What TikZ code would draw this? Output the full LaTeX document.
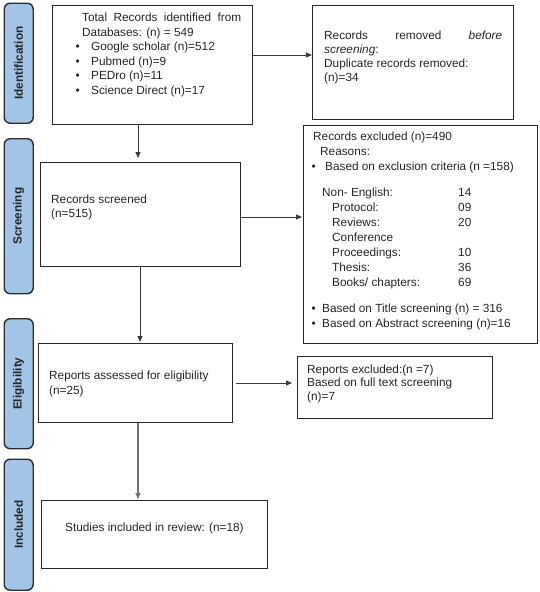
\documentclass[tikz,border=0pt]{standalone}
\usepackage{fontspec}
\setmainfont{Liberation Sans}
\usetikzlibrary{arrows.meta,calc}
\definecolor{phasefill}{HTML}{A2C4E7}
\definecolor{phaseline}{HTML}{2E2E2E}
\definecolor{boxline}{HTML}{262626}
\definecolor{arrline}{HTML}{3A3A3A}
\tikzset{
  phase/.style={draw=phaseline, line width=1.4pt, fill=phasefill, rounded corners=6pt, inner sep=0pt, anchor=north west},
  phaselabel/.style={rotate=90, font=\fontsize{11.8}{13}\selectfont\bfseries, text=black!85, inner sep=0pt},
  box/.style={draw=boxline, line width=1.1pt, fill=white, inner sep=0pt, anchor=north west},
  txt/.style={font=\fontsize{11.8}{14.6}\selectfont, text=black!85, align=left, inner sep=0pt, anchor=north west},
  arr/.style={draw=arrline, line width=0.8pt, -{Triangle[length=6pt,width=5pt]}},
}
\begin{document}
\begin{tikzpicture}[x=1pt,y=-1pt]
\useasboundingbox (0,0) rectangle (540,592);
% phase bars
\node[phase, minimum width=29pt, minimum height=120pt] (pi) at (3.5,2.5) {};
\node[phase, minimum width=29pt, minimum height=155pt] (ps) at (3.5,138) {};
\node[phase, minimum width=29pt, minimum height=130pt] (pe) at (3.5,318) {};
\node[phase, minimum width=29pt, minimum height=131pt] (pn) at (3.5,458.5) {};
\node[phaselabel] (li) at (pi.center) {Identification};
\node[phaselabel] (ls) at (ps.center) {Screening};
\node[phaselabel] (le) at (pe.center) {Eligibility};
\node[phaselabel] (ln) at (pn.center) {Included};
% boxes
\node[box, minimum width=200pt, minimum height=119pt] (b1) at (52,5) {};
\node[box, minimum width=201pt, minimum height=114pt] (b2) at (312,5) {};
\node[box, minimum width=200pt, minimum height=104pt] (b3) at (40,162) {};
\node[box, minimum width=234pt, minimum height=218pt] (b4) at (303,125) {};
\node[box, minimum width=194pt, minimum height=79pt] (b5) at (38,343) {};
\node[box, minimum width=195pt, minimum height=62pt] (b6) at (297,356) {};
\node[box, minimum width=226pt, minimum height=68pt] (b7) at (41,500) {};
% texts
\node[txt] (t1) at (75.5,12.8) {\hspace*{6.5pt}\makebox[159pt][s]{Total Records identified from}\\
\hspace*{6.5pt}Databases: (n) = 549\\
\makebox[15.5pt][l]{\textbullet}Google scholar (n)=512\\
\makebox[15.5pt][l]{\textbullet}Pubmed (n)=9\\
\makebox[15.5pt][l]{\textbullet}PEDro (n)=11\\
\makebox[15.5pt][l]{\textbullet}Science Direct (n)=17};
\node[txt, font=\fontsize{11.8}{14.1}\selectfont] (t2) at (324,30.4) {\makebox[178pt][s]{Records removed \textit{before}}\\
\textit{screening}:\\
Duplicate records removed:\\
(n)=34};
\node[txt, font=\fontsize{11.8}{14}\selectfont] (t3) at (51,194.4) {Records screened\\(n=515)};
\node[txt, font=\fontsize{11.8}{15}\selectfont] (t4) at (311.5,131.4) {\hspace*{1.5pt}Records excluded (n)=490\\
\hspace*{8.5pt}Reasons:\\
\makebox[13.5pt][l]{\textbullet}Based on exclusion criteria (n =158)\\[11pt]
\hspace*{10.5pt}\makebox[136pt][l]{Non- English:}14\\
\hspace*{20.5pt}\makebox[126pt][l]{Protocol:}09\\
\hspace*{20.5pt}\makebox[126pt][l]{Reviews:}20\\
\hspace*{20.5pt}Conference\\
\hspace*{20.5pt}\makebox[126pt][l]{Proceedings:}10\\
\hspace*{20.5pt}\makebox[126pt][l]{Thesis:}36\\
\hspace*{20.5pt}\makebox[126pt][l]{Books/ chapters:}69\\[11pt]
\makebox[10.5pt][l]{\textbullet}Based on Title screening (n) = 316\\
\makebox[10.5pt][l]{\textbullet}Based on Abstract screening (n)=16};
\node[txt, font=\fontsize{11.8}{15}\selectfont] (t5) at (49,370.4) {Reports assessed for eligibility\\(n=25)};
\node[txt, font=\fontsize{11.8}{13.8}\selectfont] (t6) at (307,364.4) {Reports excluded:(n =7)\\Based on full text screening\\(n)=7};
\node[txt] (t7) at (65,522.4) {Studies included in review: (n=18)};
% connectors
\coordinate (c1) at ($(b1.north east)+(0,50)$);
\draw[arr] (c1) -- (c1 -| b2.west);
\coordinate (c2) at ($(b1.south west)+(86,0)$);
\draw[arr] (c2) -- ($(c2 |- b3.north)+(0,-4)$);
\coordinate (c3) at ($(b3.north east)+(0,55)$);
\draw[arr] (c3) -- ($(c3 -| b4.west)+(-1,0)$);
\coordinate (c4) at ($(b3.south west)+(100,0)$);
\draw[arr] (c4) -- ($(c4 |- b5.north)+(0,-1)$);
\coordinate (c5) at ($(b5.north east)+(3,40)$);
\draw[arr] (c5) -- ($(c5 -| b6.west)+(-5,0)$);
\coordinate (c6) at ($(b5.south west)+(100,0)$);
\draw[arr, draw=black!55, line width=1.1pt] (c6) -- ($(c6 |- b7.north)+(0,-1)$);
\end{tikzpicture}
\end{document}
